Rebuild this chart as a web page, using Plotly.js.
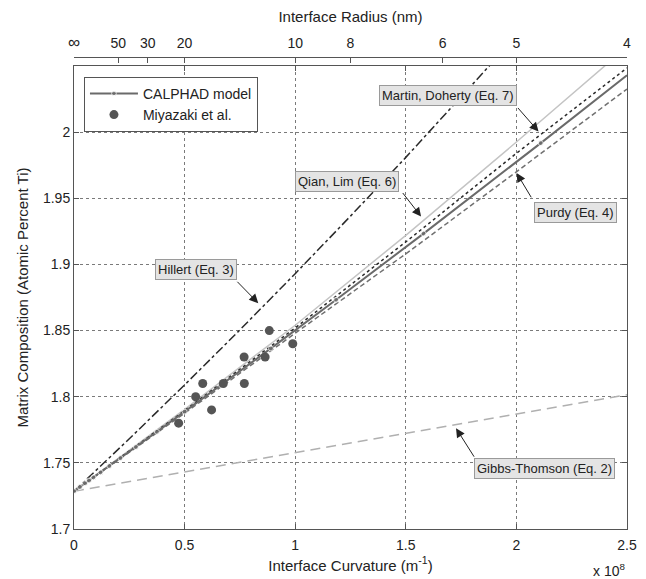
<!DOCTYPE html>
<html>
<head>
<meta charset="utf-8">
<script src="https://cdn.plot.ly/plotly-3.0.1.min.js"></script>
<style>html,body{margin:0;padding:0;background:#fff;}#chart{width:646px;height:579px;}</style>
</head>
<body>
<div id="chart"></div>
<script>
// ---- data ----
const calphadCurvature = [0, 0.027, 0.05, 0.068, 0.088, 0.12, 0.16, 0.21, 0.28, 0.375, 0.5, 0.665, 0.89, 1.185, 1.58, 2.11, 2.5];
const calphadComposition = [1.7285, 1.7317, 1.7345, 1.7366, 1.7390, 1.7428, 1.7476, 1.7536, 1.7620, 1.7735, 1.7887, 1.8088, 1.8365, 1.8733, 1.9233, 1.9917, 2.0430];

const miyazakiCurvature = [0.473, 0.550, 0.582, 0.622, 0.675, 0.769, 0.770, 0.864, 0.883, 0.989];
const miyazakiComposition = [1.78, 1.80, 1.81, 1.79, 1.81, 1.83, 1.81, 1.83, 1.85, 1.84];

const hillertCurvature = [0, 0.25, 0.5, 0.75, 1.0, 1.25, 1.5, 1.75, 2.0];
const hillertComposition = [1.7285, 1.7682, 1.8089, 1.8505, 1.8930, 1.9365, 1.9809, 2.0262, 2.0725];

const modelCurvature = [0, 0.5, 1.0, 1.5, 2.0, 2.5];
const qianLimComposition = [1.7285, 1.7905, 1.8540, 1.9220, 1.9925, 2.0645];
const martinDohertyComposition = [1.7285, 1.7895, 1.8520, 1.9170, 1.9840, 2.0485];
const purdyComposition = [1.7285, 1.7875, 1.8480, 1.9080, 1.9700, 2.0326];

const gibbsCurvature = [0, 1.25, 2.5];
const gibbsComposition = [1.7285, 1.7650, 1.8015];

const bottomTicks = [0, 0.5, 1, 1.5, 2, 2.5];
const bottomTickText = ['0', '0.5', '1', '1.5', '2', '2.5'];
const leftTicks = [1.7, 1.75, 1.8, 1.85, 1.9, 1.95, 2.0];
const leftTickText = ['1.7', '1.75', '1.8', '1.85', '1.9', '1.95', '2'];
const radiusTickPos = [0, 0.2, 1/3, 0.5, 1, 1.25, 1/0.6, 2, 2.5];
const radiusTickText = ['<span style="font-size:17px">∞</span>', '50', '30', '20', '10', '8', '6', '5', '4'];

// labels: text, box centre, arrow tail, arrow tip (data units)
const labelText = ['Martin, Doherty (Eq. 7)', 'Qian, Lim (Eq. 6)', 'Purdy (Eq. 4)', 'Hillert (Eq. 3)', 'Gibbs-Thomson (Eq. 2)'];
const labelBoxX = [1.691, 1.234, 2.267, 0.553, 2.125];
const labelBoxY = [2.0275, 1.9629, 1.9390, 1.8963, 1.7454];
const arrowTailX = [2.001, 1.481, 2.071, 0.732, 1.813];
const arrowTailY = [2.0194, 1.9551, 1.9496, 1.8880, 1.7535];
const arrowTipX = [2.100, 1.569, 2.001, 0.833, 1.727];
const arrowTipY = [2.0005, 1.9362, 1.9691, 1.8707, 1.7762];

// ---- traces ----
const lastIdx = calphadCurvature.length - 1;
const traces = [
  {x: gibbsCurvature, y: gibbsComposition, mode: 'lines', showlegend: false, hoverinfo: 'skip',
   line: {color: '#b0b0b0', width: 1.5, dash: '10px,6px'}},
  {x: hillertCurvature, y: hillertComposition, mode: 'lines', showlegend: false, hoverinfo: 'skip',
   line: {color: '#2a2a2a', width: 1.5, dash: 'dashdot'}},
  {x: modelCurvature, y: qianLimComposition, mode: 'lines', showlegend: false, hoverinfo: 'skip',
   line: {color: '#c4c4c4', width: 1.5}},
  {x: modelCurvature, y: purdyComposition, mode: 'lines', showlegend: false, hoverinfo: 'skip',
   line: {color: '#707070', width: 1.5, dash: '5px,3px'}},
  {x: modelCurvature, y: martinDohertyComposition, mode: 'lines', showlegend: false, hoverinfo: 'skip',
   line: {color: '#2a2a2a', width: 1.5, dash: 'dot'}},
  {x: calphadCurvature, y: calphadComposition, mode: 'lines+markers', name: 'CALPHAD model',
   line: {color: '#6a6a6a', width: 2},
   marker: {color: '#6a6a6a', size: calphadCurvature.map((k, i) => i === lastIdx ? 0 : 5)}},
  {x: miyazakiCurvature, y: miyazakiComposition, mode: 'markers', name: 'Miyazaki et al.',
   marker: {color: '#555555', size: 9}},
  {x: radiusTickPos, y: radiusTickPos.map(() => null), xaxis: 'x2', mode: 'markers',
   showlegend: false, hoverinfo: 'skip'}
];

const annotations = [];
for (let i = 0; i < labelText.length; i++) {
  annotations.push({x: arrowTipX[i], y: arrowTipY[i], xref: 'x', yref: 'y',
    ax: arrowTailX[i], ay: arrowTailY[i], axref: 'x', ayref: 'y', text: '',
    showarrow: true, arrowhead: 2, arrowsize: 1.8, arrowwidth: 1, arrowcolor: '#222'});
  annotations.push({x: labelBoxX[i], y: labelBoxY[i], xref: 'x', yref: 'y', text: labelText[i],
    showarrow: false, bgcolor: '#e4e4e4', bordercolor: '#9a9a9a', borderwidth: 1, borderpad: 2,
    font: {size: 13, color: '#222'}});
}
annotations.push({x: 1, y: 0, xref: 'paper', yref: 'paper', xanchor: 'right', yanchor: 'top',
  yshift: -30, text: 'x 10<sup>8</sup>', showarrow: false, font: {size: 14, color: '#222'}});

const axisCommon = {showline: true, linecolor: '#555', linewidth: 1, ticks: 'inside', ticklen: 5,
  tickcolor: '#555', zeroline: false, gridcolor: '#7a7a7a', griddash: 'dot', gridwidth: 1,
  tickfont: {size: 14, color: '#222'}};

const layout = {
  width: 646, height: 579,
  margin: {l: 74, r: 19, t: 57, b: 50},
  paper_bgcolor: '#fff', plot_bgcolor: '#fff',
  font: {family: '"Liberation Sans", Arial, sans-serif', size: 14, color: '#222'},
  xaxis: Object.assign({}, axisCommon, {range: [0, 2.5], tickvals: bottomTicks, ticktext: bottomTickText,
    mirror: 'ticks', showgrid: true, ticklabelstandoff: 3,
    title: {text: 'Interface Curvature (m<sup>-1</sup>)', font: {size: 15}, standoff: 8}}),
  xaxis2: Object.assign({}, axisCommon, {range: [0, 2.5], overlaying: 'x', side: 'top', anchor: 'free',
    position: 1, tickvals: radiusTickPos, ticktext: radiusTickText, showgrid: false, ticklabelstandoff: 3,
    title: {text: 'Interface Radius (nm)', font: {size: 15}, standoff: 6}}),
  yaxis: Object.assign({}, axisCommon, {range: [1.7, 2.05], domain: [0, 0.981], tickvals: leftTicks,
    ticktext: leftTickText, mirror: 'ticks', showgrid: true,
    title: {text: 'Matrix Composition (Atomic Percent Ti)', font: {size: 15}, standoff: 10}}),
  legend: {x: 0.018, y: 0.958, xanchor: 'left', yanchor: 'top', bgcolor: '#fff', itemwidth: 48,
    bordercolor: '#555', borderwidth: 1, font: {size: 14, color: '#222'}, tracegroupgap: 0},
  annotations: annotations,
  showlegend: true
};

Plotly.newPlot('chart', traces, layout, {displayModeBar: false, staticPlot: true});
</script>
</body>
</html>
